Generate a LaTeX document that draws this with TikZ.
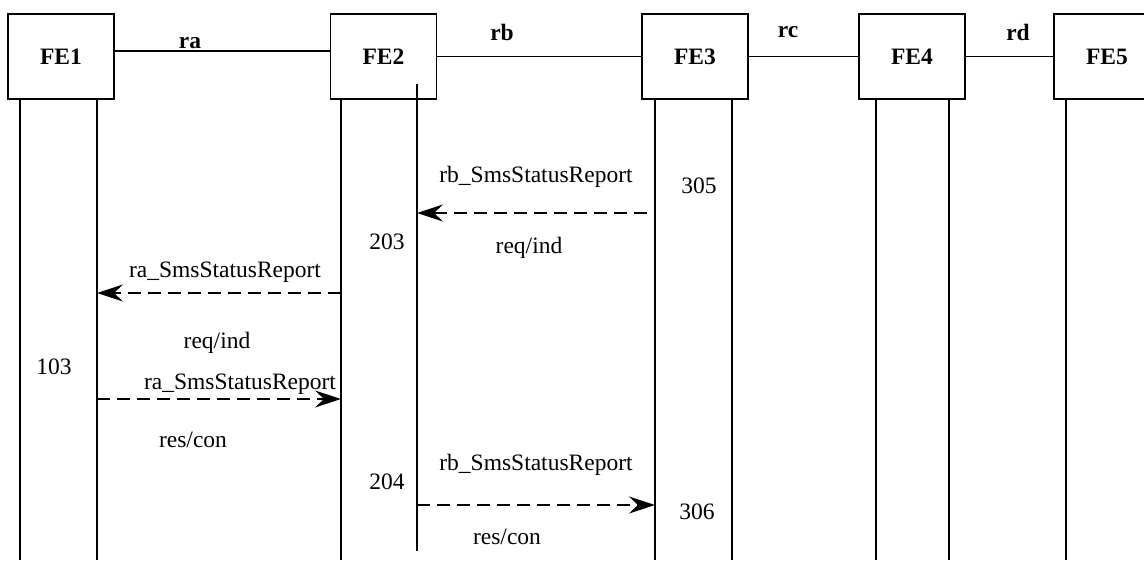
\documentclass[tikz,border=0pt]{standalone}
\usepackage{fontspec}
\setmainfont{Liberation Serif}
\usetikzlibrary{arrows.meta}
\begin{document}
\begin{tikzpicture}[x=1pt,y=-1pt,font=\fontsize{23.5}{28}\selectfont]

\tikzstyle{fe}=[rectangle,draw=black,line width=1.6pt,minimum width=106pt,minimum height=85pt,inner sep=0pt,font=\fontsize{23.5}{28}\selectfont\bfseries]
\tikzstyle{rel}=[font=\fontsize{23.5}{28}\selectfont\bfseries]
\tikzstyle{link}=[line width=1.4pt]
\tikzstyle{life}=[line width=1.6pt]
\tikzstyle{msg}=[line width=1.4pt,dash pattern=on 13pt off 7pt,-{Stealth[length=26pt,width=17pt,inset=9pt]}]

\useasboundingbox (0,0) rectangle (1144,560);

%entities.
\node[fe] (fe1) at (61,56.5) {FE1};
\node[fe] (fe2) at (383.5,56.5) {FE2};
\node[fe] (fe3) at (695,56.5) {FE3};
\node[fe] (fe4) at (912,56.5) {FE4};
\node[fe] (fe5) at (1107,56.5) {FE5};

%relationships.
\draw[link] ([yshift=5.5pt]fe1.east) -- ([yshift=5.5pt]fe2.west);
\draw[link] (fe2.east) -- (fe3.west);
\draw[link] (fe3.east) -- (fe4.west);
\draw[link] (fe4.east) -- (fe5.west);
\node[rel] (ra) at (190,43) {ra};
\node[rel] (rb) at (502,32) {rb};
\node[rel] (rc) at (788,32) {rc};
\node[rel] (rd) at (1018,32) {rd};

%lifelines.
\coordinate (b1l) at (20,560);
\coordinate (b1r) at (97,560);
\coordinate (b2l) at (341,560);
\coordinate (t2r) at (417,84);
\coordinate (b2r) at (417,551);
\coordinate (b3l) at (655,560);
\coordinate (b3r) at (732,560);
\coordinate (b4l) at (876,560);
\coordinate (b4r) at (949,560);
\coordinate (b5l) at (1066,560);
\draw[life] (fe1.south -| b1l) -- (b1l);
\draw[life] (fe1.south -| b1r) -- (b1r);
\draw[life] (fe2.south -| b2l) -- (b2l);
\draw[life] (t2r) -- (b2r);
\draw[life] (fe3.south -| b3l) -- (b3l);
\draw[life] (fe3.south -| b3r) -- (b3r);
\draw[life] (fe4.south -| b4l) -- (b4l);
\draw[life] (fe4.south -| b4r) -- (b4r);
\draw[life] (fe5.south -| b5l) -- (b5l);

%messages.
\coordinate (m1) at (647,213);
\coordinate (m2) at (341,293);
\coordinate (m3) at (97,399);
\coordinate (m4) at (417,505);
\draw[msg] (m1) -- (m1 -| t2r);
\draw[msg] (m2) -- (m2 -| b1r);
\draw[msg] (m3) -- (m3 -| b2l);
\draw[msg] (m4) -- (m4 -| b3l);

\node (m1top) at (536,177) {rb\_SmsStatusReport};
\node (m1bot) at (529,248) {req/ind};
\node (m2top) at (225,272) {ra\_SmsStatusReport};
\node (m2bot) at (217,343) {req/ind};
\node (m3top) at (240,384) {ra\_SmsStatusReport};
\node (m3bot) at (193,440) {res/con};
\node (m4top) at (536,465) {rb\_SmsStatusReport};
\node (m4bot) at (507,537) {res/con};

%steps.
\node (s103) at (54,367) {103};
\node (s203) at (387,242) {203};
\node (s204) at (387,482) {204};
\node (s305) at (699,186) {305};
\node (s306) at (697,512) {306};

\end{tikzpicture}
\end{document}
